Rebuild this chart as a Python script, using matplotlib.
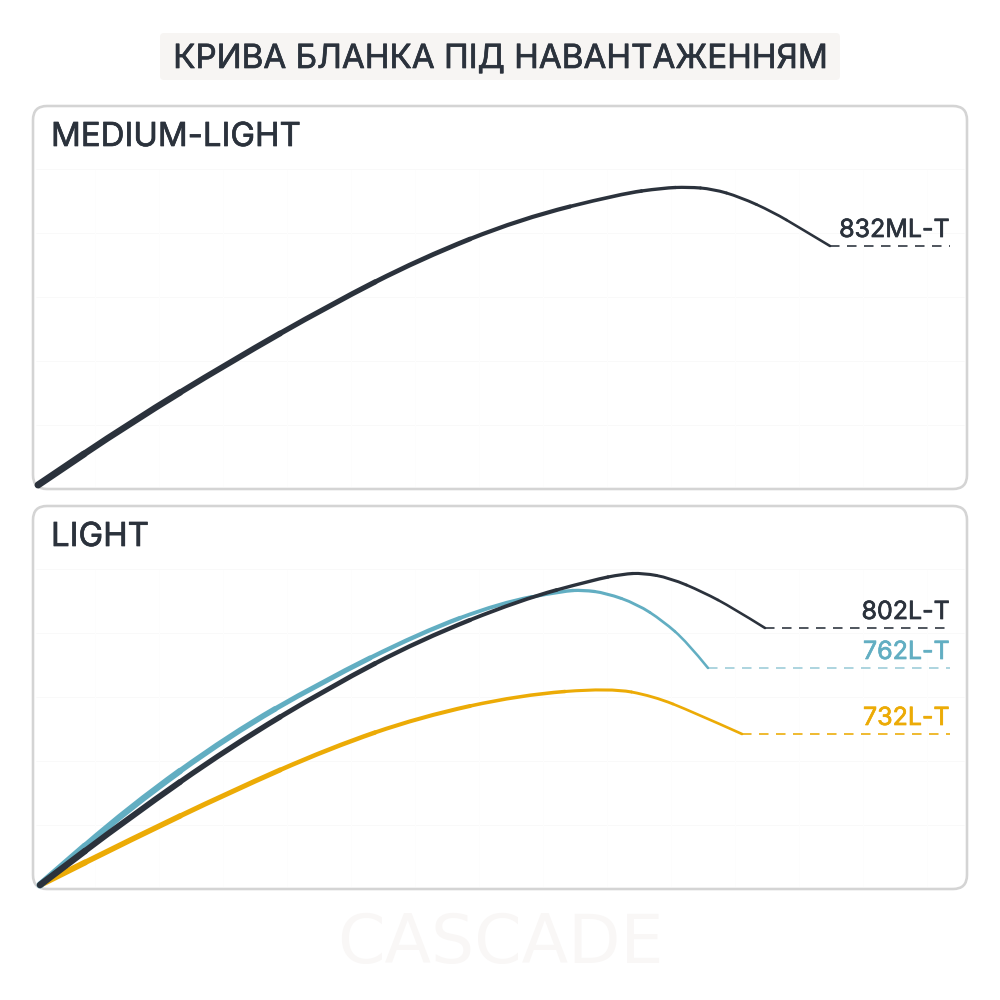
import numpy as np
import matplotlib
matplotlib.use('Agg')
import matplotlib.pyplot as plt
import matplotlib.patheffects as pe
from matplotlib.patches import FancyBboxPatch, PathPatch
from matplotlib.path import Path

# one unit on the panels is one pixel of the picture
ml_x = [5, 97, 197, 297, 387, 487, 587, 630, 655, 680, 707, 740, 767, 797]
ml_y = [4, 66, 127, 184, 230, 270, 295, 301, 302, 300, 292, 277, 261, 243]

l802_x = [7, 97, 197, 297, 387, 487, 560, 590, 610, 637, 670, 700, 732]
l802_y = [4, 72, 142, 202, 249, 289, 309, 315, 316, 311, 297, 281, 261]

l762_x = [7, 97, 197, 287, 387, 467, 530, 550, 573, 604, 630, 654, 675]
l762_y = [4, 82, 154, 206, 256, 286, 298, 299, 296, 285, 268, 247, 221]

l732_x = [7, 97, 197, 297, 387, 487, 577, 620, 660, 709]
l732_y = [4, 49, 97, 141, 172, 194, 201, 193, 177, 155]

grid_y = [64, 128, 192, 256, 320]
grid_x = [62, 126, 190, 254, 318, 382, 446, 510, 574, 638, 702, 766, 830, 894]
panel_w = 934
panel_h = 383
label_end = 917

DARK = '#2b323c'
BLUE = '#62aec2'
YELLOW = '#ecab06'
FONT = 'Inter'
px = 0.72  # pixels to points at dpi 100


def fat(color, width=0.7):
    return [pe.withStroke(linewidth=width * px, foreground=color)]


def blank_panel(top, name):
    ax = fig.add_axes([33 / 1000, 1 - (top + panel_h) / 1000, panel_w / 1000, panel_h / 1000])
    ax.set_xlim(0, panel_w)
    ax.set_ylim(0, panel_h)
    ax.axis('off')
    ax.add_patch(FancyBboxPatch((0, 0), panel_w, panel_h, boxstyle='round,pad=0,rounding_size=14',
                                fc='white', ec='#d4d4d4', lw=2.6 * px, clip_on=False, zorder=0))
    ax.hlines(grid_y, 3, panel_w - 3, color='#f9f9f9', lw=1 * px, zorder=1)
    ax.vlines(grid_x, 3, panel_h - 64, color='#fdfdfd', lw=1 * px, zorder=1)
    ax.text(18, panel_h - 40, name, fontsize=33 * px, family=FONT, color=DARK, va='baseline', ha='left',
            path_effects=fat(DARK))
    return ax


def tapered(ax, x, y, color, label, start=7.0, end=2.4, zorder=3):
    # quadratic pieces between the midpoints, thinner towards the tip
    n = len(x)
    widths = start + (end - start) * np.array(x) / x[-1]
    for i in range(n - 1):
        if i == 0:
            a = (x[0], y[0])
        else:
            a = ((x[i - 1] + x[i]) / 2, (y[i - 1] + y[i]) / 2)
        if i == n - 2:
            b = (x[-1], y[-1])
        else:
            b = ((x[i] + x[i + 1]) / 2, (y[i] + y[i + 1]) / 2)
        path = Path([a, (x[i], y[i]), b], [Path.MOVETO, Path.CURVE3, Path.CURVE3])
        ax.add_patch(PathPatch(path, fc='none', ec=color, lw=widths[i] * px, capstyle='round', zorder=zorder))
    ax.plot([x[-1], label_end], [y[-1], y[-1]], color=color, lw=1.7 * px, dashes=(5.6, 4.4),
            alpha=0.95 if color != BLUE else 0.6, zorder=zorder)
    ax.text(label_end, y[-1] + 9, label, fontsize=25 * px, family=FONT, color=color,
            ha='right', va='baseline', zorder=zorder, path_effects=fat(color))


fig = plt.figure(figsize=(10, 10), dpi=100)

fig.patches.append(FancyBboxPatch((160 / 1000, 1 - 80 / 1000), 680 / 1000, 47 / 1000,
                                  boxstyle='round,pad=0,rounding_size=0.004', fc='#f7f5f3', ec='none',
                                  transform=fig.transFigure, figure=fig))
fig.text(0.5, 1 - 68 / 1000, 'КРИВА БЛАНКА ПІД НАВАНТАЖЕННЯМ', fontsize=33.2 * px, family=FONT,
         color=DARK, ha='center', va='baseline', path_effects=fat(DARK))
fig.text(0.5, 1 - 963 / 1000, 'CASCADE', fontsize=68 * px, family='DejaVu Sans', color='#f9f7f6',
         ha='center', va='baseline')

ax1 = blank_panel(106, 'MEDIUM-LIGHT')
tapered(ax1, ml_x, ml_y, DARK, '832ML-T')

ax2 = blank_panel(506, 'LIGHT')
tapered(ax2, l732_x, l732_y, YELLOW, '732L-T', start=6.0, zorder=3)
tapered(ax2, l762_x, l762_y, BLUE, '762L-T', start=7.0, zorder=4)
tapered(ax2, l802_x, l802_y, DARK, '802L-T', start=6.5, zorder=5)

fig.savefig('out.png', dpi=100)
